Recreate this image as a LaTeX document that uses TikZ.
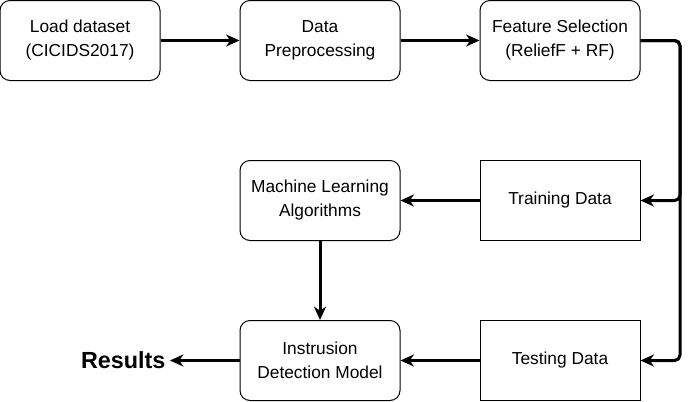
\documentclass[tikz,border=0pt]{standalone}
\usepackage{fontspec}
\setmainfont{Liberation Sans}
\usetikzlibrary{arrows.meta}

\begin{document}
\begin{tikzpicture}[x=0.75pt,y=-0.75pt,
	stepround/.style={draw,rounded corners=7.5pt,line width=0.75pt,minimum width=120pt,minimum height=60pt,align=center,font=\fontsize{13}{18}\selectfont},
	stepsquare/.style={stepround,rounded corners=0pt},
	flow/.style={line width=2.25pt,-{Stealth[length=10pt,width=9pt,inset=3pt]},rounded corners=4pt}]
	\useasboundingbox (0,0) rectangle (690,401);
	
	\node [stepround] (load) at (80,40.5) {Load dataset\\(CICIDS2017)};
	\node [stepround] (prep) at (320,40.5) {Data\\Preprocessing};
	\node [stepround] (feat) at (560,40.5) {Feature Selection\\(ReliefF + RF)};
	\node [stepround] (mla) at (320,200.5) {Machine Learning\\Algorithms};
	\node [stepsquare] (train) at (560,200.5) {Training Data};
	\node [stepround] (model) at (320,360.5) {Instrusion\\Detection Model};
	\node [stepsquare] (test) at (560,360.5) {Testing Data};
	\node [font=\fontsize{17.5}{20}\selectfont\bfseries,anchor=east] (res) at (170,360.5) {Results};
	
	\draw [flow] (load) -- (prep);
	\draw [flow] (prep) -- (feat);
	\draw [flow] (feat.east) -| (680,200.5) -- (train.east);
	\draw [flow] (feat.east) -| (680,360.5) -- (test.east);
	\draw [flow] (train) -- (mla);
	\draw [flow] (mla) -- (model);
	\draw [flow] (test) -- (model);
	\draw [flow] (model) -- (res);
	
\end{tikzpicture}
\end{document}
